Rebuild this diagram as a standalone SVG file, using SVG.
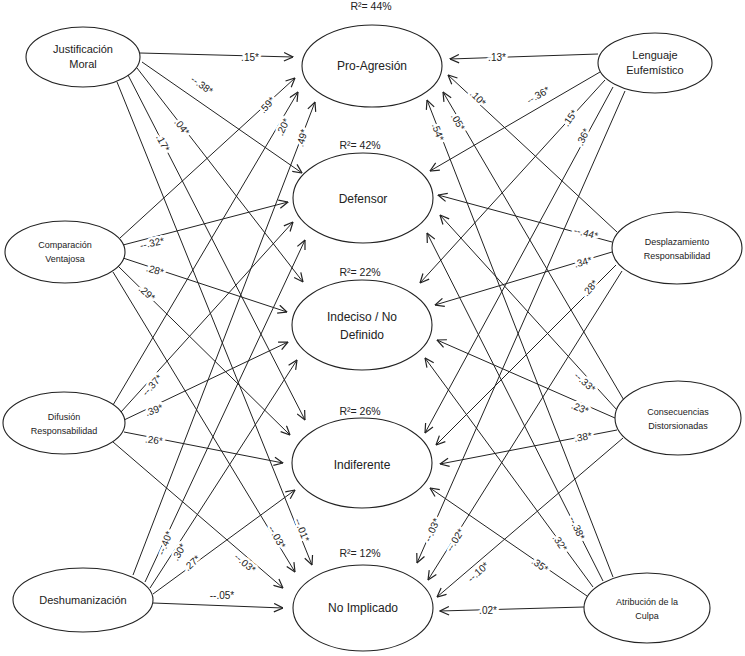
<svg xmlns="http://www.w3.org/2000/svg" width="745" height="656" viewBox="0 0 745 656">
<style>
.node ellipse{fill:#fff;stroke:#222;stroke-width:1.1}
.nt{font-family:"Liberation Sans",Arial,sans-serif;fill:#222;text-anchor:middle}
.big{font-size:12px}
.mid{font-size:11px}
.sm{font-size:9px}
.r2{font-family:"Liberation Sans",Arial,sans-serif;font-size:10.5px;fill:#222;text-anchor:middle}
#connectors line{stroke:#222;stroke-width:1;marker-end:url(#ah)}
.lbl{font-family:"Liberation Sans",Arial,sans-serif;font-size:10px;fill:#222;text-anchor:middle;stroke:#fff;stroke-width:5;paint-order:stroke;stroke-linejoin:round}
</style>
<defs>
<marker id="ah" viewBox="0 0 10 10" refX="9.5" refY="5" markerWidth="10" markerHeight="10" markerUnits="userSpaceOnUse" orient="auto">
<path d="M0.5,0.8 L9.5,5 L0.5,9.2" fill="none" stroke="#222" stroke-width="1.2"/>
</marker>
</defs>
<rect width="745" height="656" fill="#fff"/>
<g id="connectors">
<!-- JM -->
<line x1="140" y1="53" x2="293" y2="57"/>
<line x1="142" y1="62" x2="302" y2="173"/>
<line x1="137" y1="68" x2="303" y2="282"/>
<line x1="128" y1="75" x2="305" y2="420"/>
<line x1="117" y1="82" x2="312" y2="565"/>
<!-- CV -->
<line x1="120" y1="238" x2="295" y2="78"/>
<line x1="123" y1="245" x2="288" y2="202"/>
<line x1="123" y1="258" x2="287" y2="312"/>
<line x1="118" y1="266" x2="290" y2="435"/>
<line x1="113" y1="272" x2="295" y2="572"/>
<!-- DR -->
<line x1="113" y1="405" x2="298" y2="92"/>
<line x1="121" y1="412" x2="293" y2="222"/>
<line x1="124" y1="420" x2="288" y2="342"/>
<line x1="124" y1="432" x2="283" y2="463"/>
<line x1="113" y1="442" x2="283" y2="588"/>
<!-- DH -->
<line x1="133" y1="575" x2="315" y2="102"/>
<line x1="145" y1="582" x2="305" y2="240"/>
<line x1="150" y1="588" x2="297" y2="360"/>
<line x1="153" y1="594" x2="295" y2="490"/>
<line x1="153" y1="603" x2="283" y2="608"/>
<!-- LE -->
<line x1="598" y1="54" x2="450" y2="59"/>
<line x1="600" y1="72" x2="430" y2="171"/>
<line x1="605" y1="80" x2="420" y2="283"/>
<line x1="613" y1="87" x2="425" y2="433"/>
<line x1="625" y1="91" x2="417" y2="563"/>
<!-- DeR -->
<line x1="617" y1="232" x2="448" y2="75"/>
<line x1="612" y1="242" x2="438" y2="195"/>
<line x1="612" y1="252" x2="435" y2="305"/>
<line x1="616" y1="265" x2="436" y2="445"/>
<line x1="622" y1="271" x2="428" y2="580"/>
<!-- CD -->
<line x1="625" y1="402" x2="443" y2="92"/>
<line x1="617" y1="410" x2="440" y2="215"/>
<line x1="615" y1="418" x2="437" y2="340"/>
<line x1="617" y1="430" x2="440" y2="464"/>
<line x1="623" y1="438" x2="437" y2="597"/>
<!-- AC -->
<line x1="613" y1="577" x2="427" y2="100"/>
<line x1="603" y1="581" x2="427" y2="233"/>
<line x1="593" y1="587" x2="425" y2="358"/>
<line x1="587" y1="596" x2="430" y2="488"/>
<line x1="584" y1="607" x2="440" y2="611"/>
</g>
<g id="labels">
<text class="lbl" transform="translate(250,57)" dy="0.35em">.15*</text>
<text class="lbl" transform="translate(202,85) rotate(35)" dy="0.35em">--.38*</text>
<text class="lbl" transform="translate(182,127) rotate(52)" dy="0.35em">.04*</text>
<text class="lbl" transform="translate(163,143) rotate(62)" dy="0.35em">.17*</text>
<text class="lbl" transform="translate(302,530) rotate(68)" dy="0.35em">--.01*</text>
<text class="lbl" transform="translate(267,105) rotate(-48)" dy="0.35em">.59*</text>
<text class="lbl" transform="translate(152,243) rotate(-12)" dy="0.35em">--.32*</text>
<text class="lbl" transform="translate(155,270) rotate(16)" dy="0.35em">.28*</text>
<text class="lbl" transform="translate(147,293) rotate(42)" dy="0.35em">.29*</text>
<text class="lbl" transform="translate(277,537) rotate(60)" dy="0.35em">--.03*</text>
<text class="lbl" transform="translate(283,127) rotate(-65)" dy="0.35em">.20*</text>
<text class="lbl" transform="translate(152,385) rotate(-48)" dy="0.35em">--.37*</text>
<text class="lbl" transform="translate(154,410) rotate(-20)" dy="0.35em">.39*</text>
<text class="lbl" transform="translate(154,440) rotate(6)" dy="0.35em">.26*</text>
<text class="lbl" transform="translate(245,563) rotate(40)" dy="0.35em">--.03*</text>
<text class="lbl" transform="translate(302,138) rotate(-75)" dy="0.35em">.49*</text>
<text class="lbl" transform="translate(165,543) rotate(-68)" dy="0.35em">--.40*</text>
<text class="lbl" transform="translate(179,552) rotate(-60)" dy="0.35em">.30*</text>
<text class="lbl" transform="translate(192,563) rotate(-42)" dy="0.35em">.27*</text>
<text class="lbl" transform="translate(222,595)" dy="0.35em">--.05*</text>
<text class="lbl" transform="translate(497,57)" dy="0.35em">.13*</text>
<text class="lbl" transform="translate(538,95) rotate(-30)" dy="0.35em">--.36*</text>
<text class="lbl" transform="translate(570,118) rotate(-55)" dy="0.35em">.15*</text>
<text class="lbl" transform="translate(583,137) rotate(-65)" dy="0.35em">.36*</text>
<text class="lbl" transform="translate(432,530) rotate(-66)" dy="0.35em">--.03*</text>
<text class="lbl" transform="translate(478,98) rotate(45)" dy="0.35em">.10*</text>
<text class="lbl" transform="translate(586,233) rotate(15)" dy="0.35em">--.44*</text>
<text class="lbl" transform="translate(583,262) rotate(-15)" dy="0.35em">.34*</text>
<text class="lbl" transform="translate(590,288) rotate(-50)" dy="0.35em">.28*</text>
<text class="lbl" transform="translate(455,540) rotate(-58)" dy="0.35em">--.02*</text>
<text class="lbl" transform="translate(458,122) rotate(60)" dy="0.35em">.05*</text>
<text class="lbl" transform="translate(585,382) rotate(42)" dy="0.35em">--.33*</text>
<text class="lbl" transform="translate(580,408) rotate(22)" dy="0.35em">.23*</text>
<text class="lbl" transform="translate(583,437) rotate(-10)" dy="0.35em">.38*</text>
<text class="lbl" transform="translate(478,572) rotate(-42)" dy="0.35em">--.10*</text>
<text class="lbl" transform="translate(438,132) rotate(70)" dy="0.35em">.54*</text>
<text class="lbl" transform="translate(577,528) rotate(65)" dy="0.35em">--.38*</text>
<text class="lbl" transform="translate(560,543) rotate(55)" dy="0.35em">.32*</text>
<text class="lbl" transform="translate(540,565) rotate(35)" dy="0.35em">.35*</text>
<text class="lbl" transform="translate(488,610)" dy="0.35em">.02*</text>
</g>
<g id="r2">
<text class="r2" x="371" y="10">R²= 44%</text>
<text class="r2" x="360" y="149">R²= 42%</text>
<text class="r2" x="360" y="276">R²= 22%</text>
<text class="r2" x="360" y="415">R²= 26%</text>
<text class="r2" x="360" y="557">R²= 12%</text>
</g>
<g id="jm" class="node"><ellipse cx="83" cy="57" rx="57" ry="30"/><text class="nt mid" x="83" y="53">Justificación</text><text class="nt mid" x="83" y="68">Moral</text></g>
<g id="cv" class="node"><ellipse cx="65" cy="252" rx="60" ry="31"/><text class="nt sm" x="65" y="248">Comparación</text><text class="nt sm" x="65" y="262">Ventajosa</text></g>
<g id="dr" class="node"><ellipse cx="64" cy="423" rx="61" ry="31"/><text class="nt sm" x="64" y="420">Difusión</text><text class="nt sm" x="64" y="434">Responsabilidad</text></g>
<g id="dh" class="node"><ellipse cx="83" cy="600" rx="70" ry="32"/><text class="nt mid" x="83" y="604">Deshumanización</text></g>
<g id="pa" class="node"><ellipse cx="372" cy="66" rx="70" ry="41"/><text class="nt big" x="372" y="70">Pro-Agresión</text></g>
<g id="def" class="node"><ellipse cx="363" cy="198" rx="70" ry="45"/><text class="nt big" x="363" y="203">Defensor</text></g>
<g id="ind" class="node"><ellipse cx="362" cy="325" rx="70" ry="45"/><text class="nt big" x="362" y="321">Indeciso / No</text><text class="nt big" x="362" y="339">Definido</text></g>
<g id="indif" class="node"><ellipse cx="362" cy="463" rx="70" ry="45"/><text class="nt big" x="362" y="469">Indiferente</text></g>
<g id="noimp" class="node"><ellipse cx="363" cy="608" rx="70" ry="43"/><text class="nt big" x="363" y="612">No Implicado</text></g>
<g id="le" class="node"><ellipse cx="655" cy="63" rx="57" ry="30"/><text class="nt mid" x="655" y="59">Lenguaje</text><text class="nt mid" x="655" y="74">Eufemístico</text></g>
<g id="der" class="node"><ellipse cx="677" cy="248" rx="65" ry="36"/><text class="nt sm" x="677" y="245">Desplazamiento</text><text class="nt sm" x="677" y="259">Responsabilidad</text></g>
<g id="cd" class="node"><ellipse cx="678" cy="418" rx="63" ry="37"/><text class="nt sm" x="678" y="415">Consecuencias</text><text class="nt sm" x="678" y="429">Distorsionadas</text></g>
<g id="ac" class="node"><ellipse cx="647" cy="608" rx="63" ry="35"/><text class="nt sm" x="647" y="605">Atribución de la</text><text class="nt sm" x="647" y="619">Culpa</text></g>
</svg>
